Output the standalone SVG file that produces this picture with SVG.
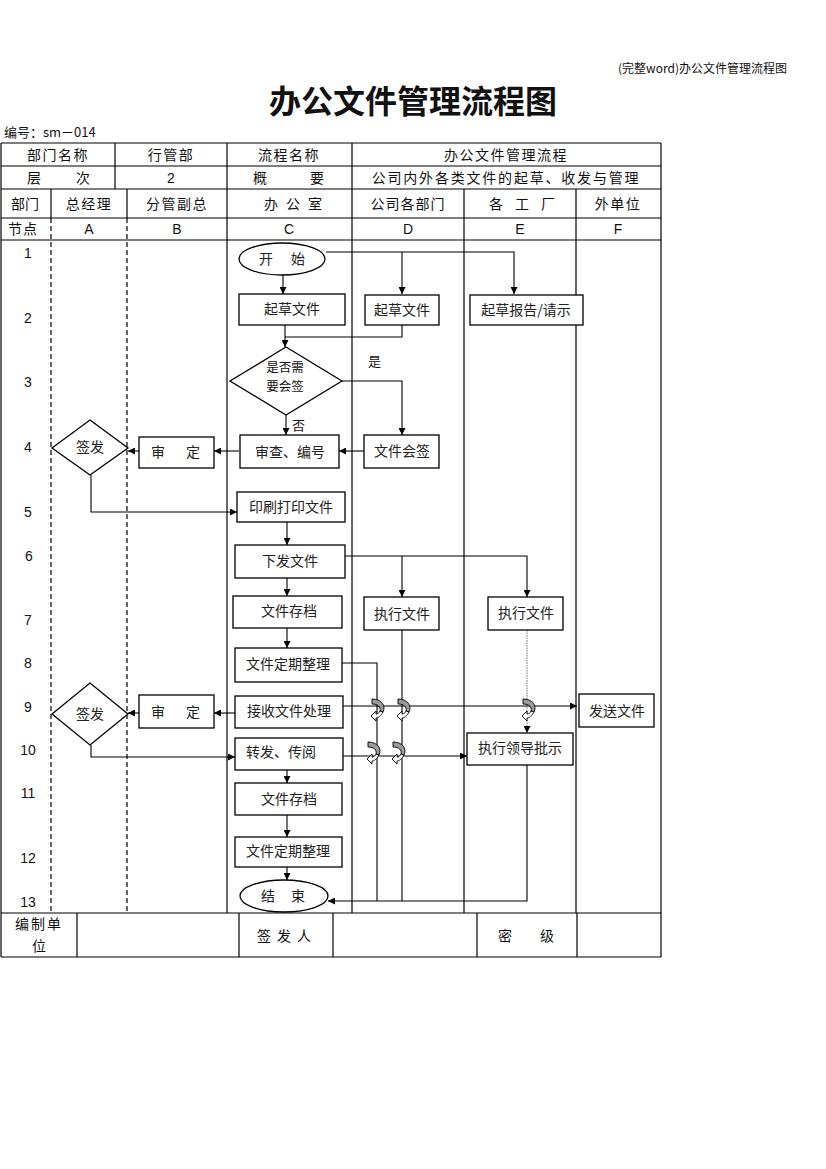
<svg xmlns="http://www.w3.org/2000/svg" width="826" height="1169" viewBox="0 0 826 1169">
<style>
.t{font-family:"Noto Sans CJK SC","Noto Sans",sans-serif;fill:#111}
.n{font-family:"Liberation Sans",Arial,sans-serif;fill:#111;font-size:14px}
.h{font-size:14px;text-anchor:middle}
.nt{font-size:14px;text-anchor:middle;fill:#222}
.grid{stroke:#000;stroke-width:1.2;fill:none}
.dash{stroke:#000;stroke-width:1.2;stroke-dasharray:5,3;fill:none}
.box{fill:#fff;stroke:#000;stroke-width:1.3}
.c{fill:none;stroke:#000;stroke-width:1.1}
.hop{fill:#9a9a9a;stroke:#000;stroke-width:0.9}
</style>
<defs>
<marker id="ar" viewBox="0 0 10 10" refX="10" refY="5" markerWidth="7" markerHeight="7" markerUnits="userSpaceOnUse" orient="auto">
<path d="M0,0 L10,5 L0,10 Z" fill="#000"/>
</marker>
<g id="hopsym">
<path d="M-5,-11 C5,-11 9,-4 6,2 L3,1 C4,-3 1,-6 -5,-6 Z"/>
<path d="M6,2 C4,6 1,8 -1,8 L-1,11 L-6,6 L-1,1 L-1,4 C1,4 2,3 3,1 Z" fill="#fff"/>
</g>
</defs>
<rect width="826" height="1169" fill="#fff"/>

<text class="t" x="787" y="73" font-size="12" text-anchor="end">(完整word)办公文件管理流程图</text>
<text class="t" x="413" y="113" font-size="32" font-weight="bold" text-anchor="middle">办公文件管理流程图</text>
<text class="t" x="4" y="137" font-size="13">编号：sm－014</text>

<g id="table">
<line class="grid" x1="1" y1="143" x2="661" y2="143"/>
<line class="grid" x1="1" y1="166" x2="661" y2="166"/>
<line class="grid" x1="1" y1="189" x2="661" y2="189"/>
<line class="grid" x1="1" y1="218" x2="661" y2="218"/>
<line class="grid" x1="1" y1="240" x2="661" y2="240"/>
<line class="grid" x1="1" y1="913" x2="661" y2="913"/>
<line class="grid" x1="1" y1="957" x2="661" y2="957"/>
<line class="grid" x1="1" y1="143" x2="1" y2="957"/>
<line class="grid" x1="661" y1="143" x2="661" y2="957"/>
<line class="grid" x1="115" y1="143" x2="115" y2="189"/>
<line class="grid" x1="227" y1="143" x2="227" y2="913"/>
<line class="grid" x1="352" y1="143" x2="352" y2="913"/>
<line class="grid" x1="51" y1="189" x2="51" y2="218"/>
<line class="grid" x1="127" y1="189" x2="127" y2="218"/>
<line class="dash" x1="51" y1="218" x2="51" y2="913"/>
<line class="dash" x1="127" y1="218" x2="127" y2="913"/>
<line class="grid" x1="464" y1="189" x2="464" y2="913"/>
<line class="grid" x1="576" y1="189" x2="576" y2="913"/>
<line class="grid" x1="77" y1="913" x2="77" y2="957"/>
<line class="grid" x1="239" y1="913" x2="239" y2="957"/>
<line class="grid" x1="333" y1="913" x2="333" y2="957"/>
<line class="grid" x1="477" y1="913" x2="477" y2="957"/>
<line class="grid" x1="577" y1="913" x2="577" y2="957"/>

<text class="t h" x="58" y="160" letter-spacing="1.5">部门名称</text>
<text class="t h" x="171" y="160" letter-spacing="1.5">行管部</text>
<text class="t h" x="289" y="160" letter-spacing="1.5">流程名称</text>
<text class="t h" x="506" y="160" letter-spacing="1.5">办公文件管理流程</text>
<text class="t h" x="34" y="183">层</text>
<text class="t h" x="83" y="183">次</text>
<text class="n" x="171" y="183" text-anchor="middle">2</text>
<text class="t h" x="260" y="183">概</text>
<text class="t h" x="317" y="183">要</text>
<text class="t h" x="506" y="183" letter-spacing="1.8">公司内外各类文件的起草、收发与管理</text>
<text class="t h" x="25" y="209">部门</text>
<text class="t h" x="89" y="209" letter-spacing="1.5">总经理</text>
<text class="t h" x="177" y="209" letter-spacing="1.5">分管副总</text>
<text class="t h" x="297" y="209" letter-spacing="8">办公室</text>
<text class="t h" x="408" y="209" letter-spacing="1">公司各部门</text>
<text class="t h" x="528" y="209" letter-spacing="12">各工厂</text>
<text class="t h" x="618" y="209" letter-spacing="1.5">外单位</text>
<text class="t h" x="23" y="234" letter-spacing="1">节点</text>
<text class="n" x="89" y="234" text-anchor="middle">A</text>
<text class="n" x="177" y="234" text-anchor="middle">B</text>
<text class="n" x="289" y="234" text-anchor="middle">C</text>
<text class="n" x="408" y="234" text-anchor="middle">D</text>
<text class="n" x="520" y="234" text-anchor="middle">E</text>
<text class="n" x="618" y="234" text-anchor="middle">F</text>

<g class="n" text-anchor="middle">
<text x="28" y="258">1</text>
<text x="28" y="323">2</text>
<text x="28" y="387">3</text>
<text x="28" y="452">4</text>
<text x="28" y="517">5</text>
<text x="29" y="561">6</text>
<text x="28" y="625">7</text>
<text x="28" y="668">8</text>
<text x="28" y="712">9</text>
<text x="28" y="755">10</text>
<text x="28" y="798">11</text>
<text x="28" y="863">12</text>
<text x="28" y="907">13</text>
</g>

<text class="t h" x="39" y="929" letter-spacing="2">编制单</text>
<text class="t h" x="39" y="951">位</text>
<text class="t h" x="287" y="941" letter-spacing="6">签发人</text>
<text class="t h" x="505" y="941">密</text>
<text class="t h" x="547" y="941">级</text>
</g>

<g id="connectors">
<path class="c" d="M283,275 V294" marker-end="url(#ar)"/>
<path class="c" d="M326,252 H514 V294" marker-end="url(#ar)"/>
<path class="c" d="M402,252 V294" marker-end="url(#ar)"/>
<path class="c" d="M285,325 V347" marker-end="url(#ar)"/>
<path class="c" d="M402,325 V337 H285"/>
<path class="c" d="M342,381 H402 V435" marker-end="url(#ar)"/>
<path class="c" d="M286,415 V435" marker-end="url(#ar)"/>
<path class="c" d="M364,451 H339" marker-end="url(#ar)"/>
<path class="c" d="M239,451 H214" marker-end="url(#ar)"/>
<path class="c" d="M139,451 H128" marker-end="url(#ar)"/>
<path class="c" d="M91,475 V512 H237" marker-end="url(#ar)"/>
<path class="c" d="M287,522 V545" marker-end="url(#ar)"/>
<path class="c" d="M345,556 H527 V597" marker-end="url(#ar)"/>
<path class="c" d="M402,556 V597" marker-end="url(#ar)"/>
<path class="c" d="M287,578 V596" marker-end="url(#ar)"/>
<path class="c" d="M287,628 V648" marker-end="url(#ar)"/>
<path class="c" d="M338,663 H377 V901"/>
<path class="c" d="M402,630 V901"/>
<path d="M527,630 V733" fill="none" stroke="#888" stroke-width="1.2" stroke-dasharray="1.5,1" marker-end="url(#ar)"/>
<path class="c" d="M527,765 V901 H328" marker-end="url(#ar)"/>
<path class="c" d="M340,706 H577" marker-end="url(#ar)"/>
<path class="c" d="M235,713 H214" marker-end="url(#ar)"/>
<path class="c" d="M139,713 H128" marker-end="url(#ar)"/>
<path class="c" d="M91,745 V757 H235" marker-end="url(#ar)"/>
<path class="c" d="M343,756 H467" marker-end="url(#ar)"/>
<path class="c" d="M287,770 V783" marker-end="url(#ar)"/>
<path class="c" d="M287,815 V837" marker-end="url(#ar)"/>
<path class="c" d="M287,867 V880" marker-end="url(#ar)"/>
<text class="t" x="368" y="366" font-size="13">是</text>
<text class="t" x="292" y="430" font-size="13">否</text>
<use href="#hopsym" class="hop" x="377" y="710"/>
<use href="#hopsym" class="hop" x="403" y="710"/>
<use href="#hopsym" class="hop" x="528" y="710"/>
<use href="#hopsym" class="hop" x="373" y="753"/>
<use href="#hopsym" class="hop" x="398" y="753"/>
</g>

<g id="start"><ellipse class="box" cx="282" cy="259" rx="43" ry="16"/><text class="t nt" x="291" y="264" letter-spacing="18">开始</text></g>
<g id="draftC"><rect class="box" x="239" y="294" width="106" height="31"/><text class="t nt" x="292" y="314">起草文件</text></g>
<g id="draftD"><rect class="box" x="365" y="295" width="74" height="30"/><text class="t nt" x="402" y="315">起草文件</text></g>
<g id="draftE"><rect class="box" x="470" y="295" width="113" height="30"/><text class="t nt" x="526" y="315">起草报告/请示</text></g>
<g id="decide"><path class="box" d="M286,347 L342,381 L286,415 L230,381 Z"/><text class="t" x="285" y="372" font-size="12.5" text-anchor="middle">是否需</text><text class="t" x="285" y="391" font-size="12.5" text-anchor="middle">要会签</text></g>
<g id="review"><rect class="box" x="240" y="435" width="99" height="33"/><text class="t nt" x="290" y="457">审查、编号</text></g>
<g id="cosign"><rect class="box" x="364" y="435" width="75" height="33"/><text class="t nt" x="402" y="456">文件会签</text></g>
<g id="approve1"><rect class="box" x="139" y="437" width="75" height="31"/><text class="t nt" x="186" y="457" letter-spacing="21">审定</text></g>
<g id="sign1"><path class="box" d="M90,420 L128,448 L90,475 L52,448 Z"/><text class="t nt" x="90" y="452">签发</text></g>
<g id="print"><rect class="box" x="237" y="492" width="108" height="30"/><text class="t nt" x="291" y="512">印刷打印文件</text></g>
<g id="issue"><rect class="box" x="235" y="545" width="110" height="33"/><text class="t nt" x="290" y="566">下发文件</text></g>
<g id="archive1"><rect class="box" x="233" y="596" width="109" height="32"/><text class="t nt" x="289" y="616">文件存档</text></g>
<g id="execD"><rect class="box" x="364" y="597" width="75" height="33"/><text class="t nt" x="402" y="619">执行文件</text></g>
<g id="execE"><rect class="box" x="488" y="597" width="75" height="33"/><text class="t nt" x="526" y="618">执行文件</text></g>
<g id="sort1"><rect class="box" x="235" y="648" width="107" height="34"/><text class="t nt" x="288" y="669">文件定期整理</text></g>
<g id="receive"><rect class="box" x="235" y="696" width="108" height="32"/><text class="t nt" x="289" y="716">接收文件处理</text></g>
<g id="approve2"><rect class="box" x="139" y="695" width="75" height="33"/><text class="t nt" x="186" y="717" letter-spacing="21">审定</text></g>
<g id="sign2"><path class="box" d="M90,683 L128,714 L90,745 L52,714 Z"/><text class="t nt" x="90" y="719">签发</text></g>
<g id="send"><rect class="box" x="579" y="694" width="75" height="33"/><text class="t nt" x="617" y="716">发送文件</text></g>
<g id="forward"><rect class="box" x="235" y="738" width="108" height="32"/><text class="t nt" x="281" y="757">转发、传阅</text></g>
<g id="lead"><rect class="box" x="467" y="733" width="106" height="32"/><text class="t nt" x="520" y="753">执行领导批示</text></g>
<g id="archive2"><rect class="box" x="235" y="783" width="107" height="32"/><text class="t nt" x="289" y="804">文件存档</text></g>
<g id="sort2"><rect class="box" x="235" y="837" width="107" height="30"/><text class="t nt" x="288" y="856">文件定期整理</text></g>
<g id="end"><ellipse class="box" cx="284" cy="896" rx="44" ry="16"/><text class="t nt" x="291" y="901" letter-spacing="16">结束</text></g>
</svg>
